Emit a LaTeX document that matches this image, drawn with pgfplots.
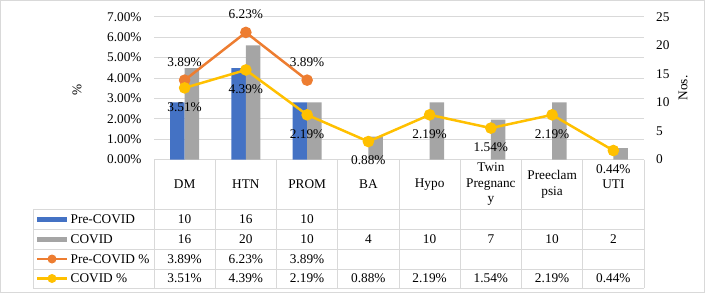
\documentclass[border=0pt]{standalone}
\usepackage{pgfplots}
\pgfplotsset{compat=1.18}
\usepackage{fontspec}
\setmainfont{Liberation Serif}
\definecolor{cblue}{HTML}{4472C4}
\definecolor{cgray}{HTML}{A5A5A5}
\definecolor{corange}{HTML}{ED7D31}
\definecolor{cyellow}{HTML}{FFC000}
\definecolor{cgrid}{HTML}{D9D9D9}
\newcommand{\fs}{\fontsize{13.3}{16}\selectfont}
\begin{document}
\begin{tikzpicture}[x=1pt,y=1pt,font=\fs]
\useasboundingbox (0,0) rectangle (705,-293);
\draw[cgrid, line width=0.75pt] (0.5,-0.5) rectangle (704.5,-292.5);
% ---------- left axis with gridlines
\begin{axis}[at={(154pt,-159.5pt)}, anchor=south west, scale only axis,
  width=490pt, height=142.8pt, xmin=-0.5, xmax=7.5, ymin=0, ymax=7,
  axis x line=none, axis y line*=left, y axis line style={draw=none},
  ytick={0,1,...,7}, major tick length=0pt,
  ymajorgrids, grid style={cgrid, line width=0.75pt},
  /pgf/number format/assume math mode=true,
  yticklabel={\pgfmathprintnumber[fixed,fixed zerofill,precision=2]{\tick}\%},
  yticklabel style={anchor=east, inner sep=0pt, xshift=-12.3pt, font=\fs}]
\addplot[draw=none] coordinates {(0,0)};
\end{axis}
% ---------- right axis with bars
\begin{axis}[at={(154pt,-159.5pt)}, anchor=south west, scale only axis,
  width=490pt, height=142.8pt, xmin=-0.5, xmax=7.5, ymin=0, ymax=25,
  axis x line=none, axis y line*=right, y axis line style={draw=none},
  ytick={0,5,...,25}, yticklabels={0,5,10,15,20,25}, major tick length=0pt,
  yticklabel style={anchor=west, inner sep=0pt, xshift=12pt, font=\fs}]
\addplot[ybar, bar width=14.5pt, bar shift=-7.25pt, fill=cblue, draw=none]
  coordinates {(0,10)(1,16)(2,10)};
\addplot[ybar, bar width=14.5pt, bar shift=7.25pt, fill=cgray, draw=none]
  coordinates {(0,16)(1,20)(2,10)(3,4)(4,10)(5,7)(6,10)(7,2)};
\end{axis}
% ---------- lines
\begin{axis}[at={(154pt,-159.5pt)}, anchor=south west, scale only axis,
  width=490pt, height=142.8pt, xmin=-0.5, xmax=7.5, ymin=0, ymax=7,
  hide axis, clip=false, point meta=y,
  nodes near coords={\pgfmathprintnumber[fixed,fixed zerofill,precision=2,assume math mode=true]{\pgfplotspointmeta}\%}]
\addplot[corange, line width=2.5pt, mark=*, mark size=4.5pt,
  every node near coord/.append style={anchor=center, yshift=18pt, text=black, font=\fs}]
  coordinates {(0,3.89)(1,6.23)(2,3.89)};
\addplot[cyellow, line width=2.5pt, mark=*, mark size=4.5pt,
  every node near coord/.append style={anchor=center, yshift=-19pt, text=black, font=\fs}]
  coordinates {(0,3.51)(1,4.39)(2,2.19)(3,0.88)(4,2.19)(5,1.54)(6,2.19)(7,0.44)};
\end{axis}
% ---------- axis titles
\node[rotate=90] at (77,-90) {\%};
\node[rotate=90] at (683,-88) {Nos.};
% ---------- data table
\foreach \k in {0,...,8} {
  \draw[cgrid, line width=0.75pt] ({154+61.25*\k},-159.5) -- ({154+61.25*\k},-288);
}
\draw[cgrid, line width=0.75pt] (33,-209) -- (33,-288);
\foreach \yy in {209,229,249,269,288} {
  \draw[cgrid, line width=0.75pt] (33,-\yy) -- (644,-\yy);
}
\foreach \lab [count=\i from 0] in {DM,HTN,PROM,BA,Hypo,{Twin\\Pregnanc\\y},{Preeclam\\psia},UTI} {
  \node[align=center, font=\fontsize{13.3}{15.5}\selectfont] at ({154+61.25*(\i+0.5)},-184.5) {\lab};
}
% legend cells
\fill[cblue] (37,-216.5) rectangle (67,-221.5);
\fill[cgray] (37,-236.5) rectangle (67,-241.5);
\draw[corange, line width=2.5pt] (37,-259) -- (67,-259);
\fill[corange] (52,-259) circle (4.5);
\draw[cyellow, line width=2.5pt] (37,-278.5) -- (67,-278.5);
\fill[cyellow] (52,-278.5) circle (4.5);
\node[anchor=west, inner sep=0pt] at (70.5,-219) {Pre-COVID};
\node[anchor=west, inner sep=0pt] at (70.5,-239) {COVID};
\node[anchor=west, inner sep=0pt] at (70.5,-259) {Pre-COVID \%};
\node[anchor=west, inner sep=0pt] at (70.5,-278.5) {COVID \%};
% table values
\foreach \v [count=\i from 0] in {10,16,10} {
  \node at ({154+61.25*(\i+0.5)},-219) {\v};
}
\foreach \v [count=\i from 0] in {16,20,10,4,10,7,10,2} {
  \node at ({154+61.25*(\i+0.5)},-239) {\v};
}
\foreach \v [count=\i from 0] in {3.89\%,6.23\%,3.89\%} {
  \node at ({154+61.25*(\i+0.5)},-259) {\v};
}
\foreach \v [count=\i from 0] in {3.51\%,4.39\%,2.19\%,0.88\%,2.19\%,1.54\%,2.19\%,0.44\%} {
  \node at ({154+61.25*(\i+0.5)},-278.5) {\v};
}
\end{tikzpicture}
\end{document}
